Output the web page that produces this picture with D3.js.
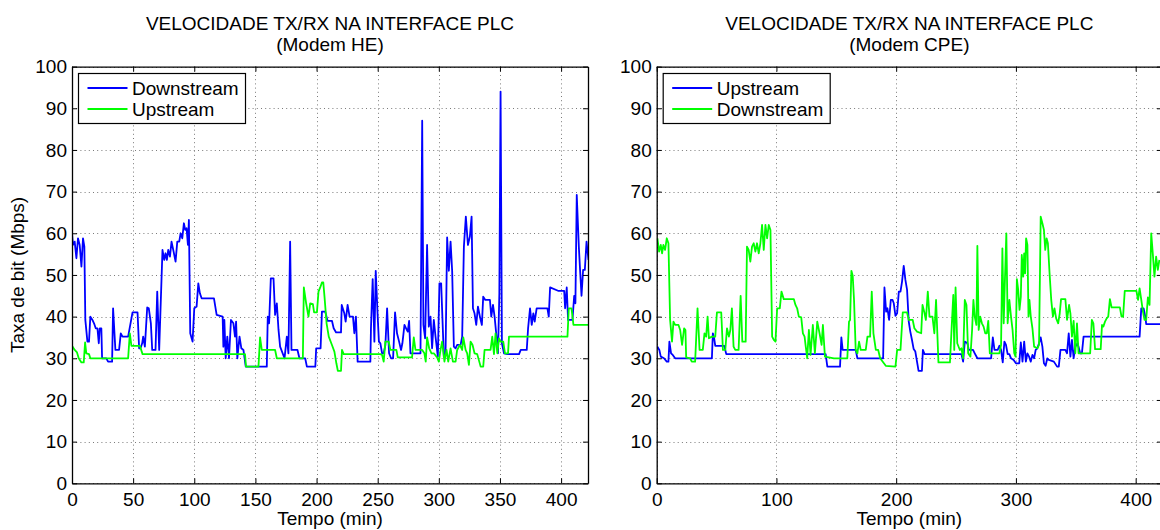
<!DOCTYPE html>
<html>
<head>
<meta charset="utf-8">
<script src="https://cdn.jsdelivr.net/npm/d3@7"></script>
<style>
  html, body { margin: 0; padding: 0; background: #fff; }
  svg { display: block; }
  text { font-family: "Liberation Sans", Arial, Helvetica, sans-serif; fill: #000; }
</style>
</head>
<body>
<svg id="chart" width="1160" height="530"></svg>
<script>
// Bit rate on the PLC interface, sampled over time (minutes, Mbps)
const heDownstream = [[0,60],[0.8,57.2],[2.2,58],[3.6,54],[4.9,58.8],[6.3,57.2],[7.7,52],[9,58.8],[10.1,56.8],[10.9,39.2],[12.6,34],[13.9,34],[15,40],[16.7,39.2],[18,38.4],[19.4,37.2],[20.8,37.2],[21.9,33.6],[22.7,37.2],[24,37.2],[24.6,30],[28.1,30],[29.5,29.2],[32.8,29.2],[33.6,42],[35.5,32],[38.5,32],[39.9,36],[41.3,35.2],[45.9,35.2],[49.5,41],[53.6,41],[54.9,32.4],[56,32.4],[57.4,33.6],[58.2,35.2],[59.6,32.8],[61.5,42.2],[62.8,42],[64.5,38.4],[65.6,32],[68.3,32],[69.7,46],[71.3,32],[74,56],[75.4,53.6],[76.5,55.2],[77.6,53.6],[78.7,56],[80.1,54.4],[81.4,58],[83.1,55.6],[84.7,53.2],[86.1,58],[87.7,58],[88.8,60],[90.2,58.8],[91.5,62.4],[92.6,60.8],[93.7,61.2],[94.8,57.2],[95.6,63.2],[96.7,36],[98.6,34],[100,42],[101.9,42.4],[103.3,48],[104.6,45.6],[106,44.4],[116.1,44.4],[118.3,40.4],[123.2,40],[123.8,32.8],[124.6,39.2],[125.7,30],[127,35.2],[128.4,30],[130,39.2],[132,38.4],[133.3,35.2],[134.2,38.8],[135.2,30],[137,35.2],[138.5,32.4],[140.2,32],[142.1,28],[159.3,28],[160.1,40],[161.2,38.4],[162.6,49.2],[164.8,49.2],[166.1,40.4],[167.5,43.2],[168.9,36.8],[170.2,32.8],[173.8,30],[175.7,35.2],[177,31.2],[178.4,58],[179.5,32],[184.4,32],[186,30],[190.7,30],[192.1,28],[199,28],[199.7,32.4],[203.3,32.4],[204.4,41.2],[207.1,41.2],[209,39],[212.6,39],[214,37.2],[216,36.2],[220,36.2],[220.6,42.8],[222.7,40.8],[223.8,38.8],[225.4,42.8],[227,40],[229.8,40],[230.9,36],[232.2,40],[233.6,29.2],[244,29.2],[244.5,37.2],[245.9,49],[247.3,34],[248.4,51],[250,40],[251,34],[252.2,33.6],[253.6,31.2],[254.9,31.2],[256.3,33.2],[257.7,42],[259.3,31.2],[260.9,30],[262.6,30],[264.2,41],[265.8,36],[267.5,34],[269.1,32],[270.2,33.6],[271.9,38],[273.5,37],[274.6,36.4],[275.7,39],[276.8,31.2],[285,31.2],[286.4,87],[287.4,38],[288.8,34.8],[290.4,57.2],[291.8,37.6],[293.2,40],[294.5,32.4],[295.9,39.2],[297.3,35.2],[299.2,30.4],[300.5,48],[301.9,48],[304.1,30.4],[305.5,31.2],[306.8,59],[308.2,51],[309.6,58],[310.9,51],[312.3,32.8],[313.7,32.4],[315,33.2],[317.8,33.2],[319.1,35.2],[320.5,56.8],[322.1,64],[323.8,57.2],[325.4,59.2],[326.8,64],[327.9,42],[329.2,40.8],[330.6,38],[332,42.4],[333.6,40],[335.2,38],[336.3,44.8],[338,44],[341.8,44],[342.9,40],[344.3,42.8],[345.6,40],[347.3,34.8],[348.4,31.2],[349.5,45.6],[350.5,94],[351.6,33.6],[353.3,31.2],[356,31],[365.6,31],[367,32],[371.9,32],[373,37.2],[374.6,42],[376,38],[377.3,40.8],[378.4,38.8],[380,42],[388.8,42],[389.9,40],[391,47],[397.5,46.2],[402.5,46.2],[403.3,42],[404.6,47],[405.7,39.2],[409.3,39.2],[410.7,45],[411.7,43.2],[412.8,69.2],[414.5,56.8],[415.6,50.8],[416.7,45],[418,51.2],[419.4,51.2],[420.8,58],[422.4,53.6]];

const heUpstream = [[0,33],[2.2,32],[4.1,31.4],[5.5,30],[7.7,29],[9.6,29],[10.7,33.8],[11.7,31.2],[13.9,31],[15,30],[45.9,30],[47.3,36],[48.6,33],[55.5,33],[57.7,31],[139.6,31],[141.5,31],[142.3,28],[152.5,28],[153.8,35],[155.2,32],[166.1,32],[167.5,30],[188.8,30],[189.6,47],[191.5,43.2],[193.4,40],[194.8,43.2],[197,43],[198,41],[200.3,41],[201.6,46],[203,47],[204.4,48.2],[205.5,48.2],[206.5,44.8],[208.2,38.4],[210,35.2],[212.6,33.2],[214.6,31.6],[216.2,28.8],[217.4,27],[220,27],[220.8,32],[222.2,31],[252.2,31],[253.6,30.8],[254.9,29.2],[256.3,34],[259,34],[260.4,32],[265.3,32],[266.4,30.2],[278.1,30.2],[279.5,35],[280.9,32],[286.4,32],[288.2,31.2],[289.3,29.2],[290.4,35],[292.1,32.4],[294,31.2],[295.9,31.2],[298.6,30.2],[300,29.2],[301.4,32],[302.7,34],[304.6,29.2],[306.3,32],[307.7,29.2],[309.6,32.4],[311.5,29.2],[313.7,29.2],[315,32],[317.2,33.2],[319.1,32],[320,35],[321.9,32],[323.2,31.2],[324.6,28.4],[326,34],[327.6,33.2],[329.2,31.2],[331.4,31],[334.2,28],[336.3,28],[337.4,32],[342.3,32],[343.7,35.2],[345.1,31],[346.4,36],[347.8,31.2],[349.2,34.8],[350.5,34],[352.7,34],[354.1,31.2],[356.6,31.2],[357.4,35.2],[405.2,35.2],[406.3,42],[408.5,42],[410.1,38],[422.4,38]];

const cpeUpstream = [[0.6,32.8],[2.2,32],[3.4,30.4],[6.1,30],[8.4,29.2],[9.8,29.2],[10.6,34],[12,31.2],[13.4,30.8],[15.4,30],[46.1,30],[46.9,36],[48,34.8],[48.9,33],[56.4,33],[58.1,31],[141.1,31],[142.5,28],[153.1,28],[154.2,35],[155.3,32],[166.2,32],[167.6,30],[189.1,30],[190.2,47],[191.6,41.2],[192.7,42],[194.1,39.2],[195.5,44],[197,44],[198,43.2],[199.4,40.2],[200.8,40.8],[202.2,46],[203.6,46],[204.9,48.4],[206.3,52.2],[207.7,48.8],[209.1,46.4],[210.5,38.8],[211.8,36.4],[213.2,34.4],[214.6,32.2],[216,31.6],[217.4,29.2],[218.7,27],[221.5,27],[222.3,32],[223.7,31],[254.5,31],[255.9,29.2],[257.3,34],[259.5,33.6],[260.6,32],[264.2,32],[265.6,31.2],[267.8,30],[279.3,30],[280.7,35],[282.1,32],[284.8,32],[286.2,33],[287.6,32],[289,29],[290.4,34],[291.7,33.2],[293.1,31],[294.5,31],[295.9,30],[298.1,29.6],[300,28.8],[302.8,28.8],[304.1,33.8],[305.5,29.2],[306.9,34],[308.3,29.2],[309.6,31.2],[311,30.4],[312.4,29.2],[313.8,30.8],[315.2,30],[316.5,32],[317.9,32.4],[319.3,33.6],[320.7,35],[322.1,32.8],[323.4,28.8],[324.8,28.2],[326.2,30],[327.5,29.6],[331.7,29.2],[334.4,28],[335.8,28],[337.2,32],[341.3,32],[342.7,31.2],[344.1,36],[345.5,30.4],[346.8,34.4],[348.2,30],[349.6,32.8],[351.5,33.6],[353.7,31.2],[355.1,31.2],[356.5,35.2],[403.3,35.2],[404.7,42],[406.6,42],[408.3,39.6],[408.8,38.2],[422,38.2]];

const cpeDownstream = [[0.6,58.8],[2,55.6],[3.4,57.2],[4.5,55.2],[5.6,57.2],[7,56],[8.4,58.8],[9.8,57.6],[11.2,39.2],[12.8,34],[14,38.8],[15.4,38],[18.2,38],[19.6,36.8],[21.2,33.2],[22.9,37.2],[24,36.8],[24.6,30.2],[27.9,30],[29.3,29.2],[32.1,29.2],[34.1,42],[35.8,32],[38.5,32],[39.9,36],[41.3,35.2],[42.5,40],[43.6,34.8],[46.1,35.2],[48.9,35.2],[50.3,41],[53.9,41],[55.3,32],[57.3,32],[58.7,37.2],[60.3,35.2],[61.5,36.8],[62.8,42],[64.2,32.8],[65.6,32],[68.4,32],[70.1,45],[71.5,34],[74.3,34],[75.4,56.8],[76.8,56],[78.2,53.2],[79.6,56.8],[81,57.6],[82.4,55.6],[83.8,57.6],[85.2,55.2],[86.6,57.6],[88,62],[89.4,56],[90.8,62],[92.2,58.8],[93.6,62],[95,60.8],[96.4,35.2],[97.8,34.4],[99.2,34],[100.6,42],[102.8,42],[104.2,46],[106.1,44.2],[114.5,44.2],[115.9,42.8],[117.3,42],[118.7,40],[120.7,39.8],[122.1,36],[123.5,35.2],[124.3,33.2],[125.7,30],[127.1,36.8],[128.5,30.8],[130.4,38],[132.1,31.2],[134.1,38.8],[136,36],[137.7,33.2],[138.8,38],[140.5,30.4],[148,30],[159.2,30],[160.6,38.8],[161.5,39.2],[162.6,51],[163.7,49.8],[164.8,44],[166.2,32],[167.6,31.2],[169,34],[170.4,32],[174.6,32],[176,35.2],[178.2,35.2],[179.6,46],[181,36],[183,32],[185,32],[186.6,30],[191.3,28.2],[199.4,28],[200.8,32],[203.6,32],[205.5,41],[209.1,41],[210.5,39.2],[213.8,39.2],[215.2,37.2],[217.4,36.4],[220.9,36],[222,42.8],[223.4,41.2],[224.8,39.2],[226.4,46],[227.8,40],[230.3,40],[231.9,36],[233.3,44],[235.3,29],[244.9,29],[246.3,37.2],[247.7,45.2],[248.5,32],[249.6,47],[251,33.6],[253.2,32],[254.5,32.4],[255.9,30],[257.3,44],[258.7,42.8],[260.1,31.2],[262,30.4],[263.4,36.8],[264.5,44],[265.6,40],[267,38],[267.8,57],[268.9,36.8],[270.2,40],[271.6,38.4],[273,37.6],[274.4,36],[275.7,36],[276.9,39],[278.2,31.2],[286.2,31.2],[287.6,33.2],[288.7,56.4],[289.8,38.4],[290.9,49.6],[292,60],[293.1,38.4],[294.5,44],[295.9,40],[297.2,36.8],[298.6,31.2],[299.7,30.4],[300.8,49],[301.9,46.4],[303,41.6],[304.1,44.8],[304.9,54.8],[306.1,49.6],[306.9,55.2],[307.7,50.4],[308.5,58.8],[309.6,57.2],[310.5,40],[311.3,44],[312.4,40],[313.8,37.2],[315.2,32.8],[317.9,32.4],[319.3,33.2],[320.7,64],[322.1,62.4],[323.4,60.8],[324.5,56],[325.6,58.8],[326.7,57.6],[328.1,50.4],[329.5,44],[330.9,40],[332.2,42],[333.6,39.6],[335.3,38.4],[336.6,40.8],[337.7,44.2],[341.3,44.2],[342.7,39.2],[344.4,42.8],[345.5,40.8],[346.8,35.2],[348.2,39],[349.6,31.2],[351,38.4],[352.3,31.2],[362,31.2],[363.4,39.2],[364.7,38.4],[366.1,32.2],[370.8,32.2],[371.9,38],[373,37.6],[374.4,38.8],[375.8,39.6],[377.1,40],[378.5,44.2],[379.9,42.2],[386.8,42.2],[388.2,40],[389.5,40],[390.9,46.2],[400.6,46.2],[402,44],[403.3,46.8],[404.7,44],[406.1,41.2],[407.4,39.2],[408.8,39.2],[410.2,44.6],[411.6,42.8],[413,60],[414.3,55.2],[415.7,49.6],[417.1,54.4],[418.5,51.2],[419.8,53.6]];

const yTicks = [0, 10, 20, 30, 40, 50, 60, 70, 80, 90, 100];
const heXTicks = [0, 50, 100, 150, 200, 250, 300, 350, 400];
const cpeXTicks = [0, 100, 200, 300, 400];
const titleLine1 = "VELOCIDADE TX/RX NA INTERFACE PLC";
const heSubtitle = "(Modem HE)";
const cpeSubtitle = "(Modem CPE)";
const xLabel = "Tempo (min)";
const yLabel = "Taxa de bit (Mbps)";
const timeDomain = [0, 422];
const rateDomain = [0, 100];

const BLUE = "#0000ff", GREEN = "#00ff00";
const FONT = 19;

const svg = d3.select("#chart");
svg.append("rect").attr("width", 1160).attr("height", 530).attr("fill", "#fff");

const panels = [
  { id: "he", left: 72, right: 588, subtitle: heSubtitle, xTicks: heXTicks,
    series: [{ name: "Downstream", data: heDownstream, color: BLUE },
             { name: "Upstream", data: heUpstream, color: GREEN }],
    yLabel: true },
  { id: "cpe", left: 656.7, right: 1162, subtitle: cpeSubtitle, xTicks: cpeXTicks,
    series: [{ name: "Upstream", data: cpeUpstream, color: BLUE },
             { name: "Downstream", data: cpeDownstream, color: GREEN }],
    yLabel: false }
];

const plotTop = 66.6, plotBottom = 483.3, tickLen = 5;

panels.forEach(p => {
  const x = d3.scaleLinear().domain(timeDomain).range([p.left, p.right]);
  const y = d3.scaleLinear().domain(rateDomain).range([plotBottom, plotTop]);
  const g = svg.append("g");
  const w = p.right - p.left, h = plotBottom - plotTop;

  g.append("defs").append("clipPath").attr("id", "clip-" + p.id)
    .append("rect").attr("x", p.left).attr("y", plotTop).attr("width", w).attr("height", h);

  // dotted grid
  const grid = g.append("g").attr("stroke", "#7a7a7a").attr("stroke-width", 1)
    .attr("stroke-dasharray", "1,3.2").attr("fill", "none");
  grid.selectAll("line.gx").data(p.xTicks).join("line").attr("class", "gx")
    .attr("x1", d => Math.round(x(d)) + 0.5).attr("x2", d => Math.round(x(d)) + 0.5)
    .attr("y1", plotTop).attr("y2", plotBottom);
  grid.selectAll("line.gy").data(yTicks).join("line").attr("class", "gy")
    .attr("y1", d => Math.round(y(d)) + 0.5).attr("y2", d => Math.round(y(d)) + 0.5)
    .attr("x1", p.left).attr("x2", p.right);

  // series
  const line = d3.line().x(d => x(d[0])).y(d => y(d[1]));
  const plot = g.append("g").attr("clip-path", "url(#clip-" + p.id + ")");
  p.series.forEach(s => {
    plot.append("path").datum(s.data).attr("d", line)
      .attr("fill", "none").attr("stroke", s.color).attr("stroke-width", 1.8)
      .attr("stroke-linejoin", "round");
  });

  // axes with inward ticks on all four sides
  const styleAxis = sel => {
    sel.selectAll("path.domain").attr("stroke", "#000").attr("stroke-width", 1.3);
    sel.selectAll(".tick line").attr("stroke", "#000").attr("stroke-width", 1);
    sel.selectAll(".tick text").attr("font-size", FONT).attr("font-family", null).attr("fill", "#000");
  };
  g.append("g").attr("transform", `translate(0,${plotBottom})`)
    .call(d3.axisBottom(x).tickValues(p.xTicks).tickSizeInner(-tickLen).tickSizeOuter(0).tickPadding(9.5))
    .call(styleAxis);
  g.append("g").attr("transform", `translate(0,${plotTop})`)
    .call(d3.axisTop(x).tickValues(p.xTicks).tickSizeInner(-tickLen).tickSizeOuter(0).tickFormat(""))
    .call(styleAxis);
  g.append("g").attr("transform", `translate(${p.left},0)`)
    .call(d3.axisLeft(y).tickValues(yTicks).tickSizeInner(-tickLen).tickSizeOuter(0).tickPadding(5))
    .call(styleAxis);
  g.append("g").attr("transform", `translate(${p.right},0)`)
    .call(d3.axisRight(y).tickValues(yTicks).tickSizeInner(-tickLen).tickSizeOuter(0).tickFormat(""))
    .call(styleAxis);

  // titles
  const cx = (p.left + p.right) / 2;
  g.append("text").attr("x", cx).attr("y", 29.5).attr("text-anchor", "middle")
    .attr("font-size", FONT).text(titleLine1);
  g.append("text").attr("x", cx).attr("y", 50.5).attr("text-anchor", "middle")
    .attr("font-size", FONT).text(p.subtitle);
  g.append("text").attr("x", cx).attr("y", 525).attr("text-anchor", "middle")
    .attr("font-size", FONT).text(xLabel);
  if (p.yLabel) {
    g.append("text").attr("transform", `translate(24,${(plotTop + plotBottom) / 2}) rotate(-90)`)
      .attr("text-anchor", "middle").attr("font-size", FONT).text(yLabel);
  }

  // legend
  const lx = p.left + 6.5, ly = 73.5, lw = 167, lh = 50;
  const leg = g.append("g");
  leg.append("rect").attr("x", lx).attr("y", ly).attr("width", lw).attr("height", lh)
    .attr("fill", "#fff").attr("stroke", "#000").attr("stroke-width", 1.2);
  p.series.forEach((s, i) => {
    const yy = ly + 14.5 + i * 21;
    leg.append("line").attr("x1", lx + 9).attr("x2", lx + 49).attr("y1", yy).attr("y2", yy)
      .attr("stroke", s.color).attr("stroke-width", 1.8);
    leg.append("text").attr("x", lx + 53.5).attr("y", yy).attr("dy", "0.35em")
      .attr("font-size", FONT).text(s.name);
  });
});
</script>
</body>
</html>
